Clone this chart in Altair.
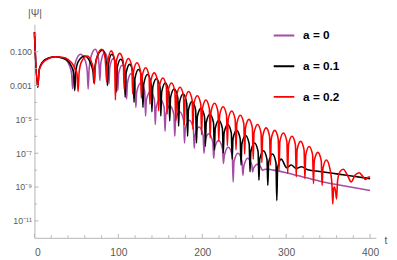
import math
import altair as alt
import pandas as pd

# ---- data (t, log10|Psi|) ----
names = ["a = 0", "a = 0.1", "a = 0.2"]
colors = ["#a64ca6", "#000000", "#ff0000"]

a0_t = [0, 3.9, 5.5, 8, 12, 18, 25, 32, 38, 42, 44.3, 45.5, 46.8, 49, 55, 61, 63, 64, 65.2, 68, 72.5,
        76, 77.1, 78, 79, 83.5, 87.8, 88.8, 89.8, 94, 98.3, 99.3, 100.3, 104.5, 108.8, 109.8, 110.8,
        115, 119.8, 120.8, 121.8, 126.6, 131.4, 132.4, 133.4, 138.2, 143, 144, 145, 149.8, 154.6,
        155.6, 156.6, 161.4, 166.2, 167.2, 168.2, 173, 177.8, 178.8, 179.8, 184.6, 189.4, 190.4,
        191.4, 196.2, 201, 202, 203, 207.8, 212.6, 213.6, 214.6, 219.4, 224.2, 225.2, 226.2, 231,
        235.8, 236.8, 237.8, 242.6, 247.4, 248.4, 249.4, 254.2, 259, 260, 261, 265.8, 270.5, 271.5,
        277, 285, 300, 320, 340, 360, 380, 400]
a0_log = [0.15, -3.1, -2.1, -1.75, -1.5, -1.35, -1.3, -1.35, -1.5, -1.85, -2.3, -3.2, -2.2, -1.6,
          -1.15, -1.6, -2.2, -3.2, -2.0, -1.2, -0.85, -1.3, -1.9, -2.7, -1.7, -1.05, -1.6, -2.9, -1.9,
          -1.4, -2.0, -3.3, -2.3, -1.8, -2.35, -3.8, -2.85, -2.3, -2.85, -4.3, -3.4, -2.85, -3.35,
          -4.8, -3.85, -3.35, -3.85, -5.3, -4.3, -3.8, -4.3, -5.7, -4.7, -4.2, -4.7, -6.0, -5.05,
          -4.55, -5.05, -6.4, -5.55, -5.05, -5.55, -6.7, -5.95, -5.45, -5.95, -7.0, -6.35, -5.85,
          -6.35, -7.3, -6.75, -6.25, -6.75, -7.6, -7.15, -6.65, -7.15, -8.7, -7.5, -7.0, -7.5, -8.3,
          -7.8, -7.3, -7.7, -8.1, -7.9, -7.65, -7.9, -8.0, -7.93, -8.0, -8.15, -8.4, -8.65, -8.85,
          -9.02, -9.2]

a1_t = [0, 3.9, 5.5, 8, 12, 18, 25, 32, 39, 44, 46.8, 48, 49.3, 52, 60, 67, 69.8, 71, 72.3, 75.5,
        81.5, 85, 86, 87, 88, 92.1, 96.4, 97.4, 98.4, 102.8, 107.1, 108.1, 109.1, 113.4, 117.7, 118.7,
        119.7, 124, 128.3, 129.3, 130.3, 134.7, 139, 140, 141, 145.3, 149.6, 150.6, 151.6, 155.9,
        160.2, 161.2, 162.2, 166.5, 170.8, 171.8, 172.8, 177.2, 181.5, 182.5, 183.5, 187.8, 192.1,
        193.1, 194.1, 198.4, 202.7, 203.7, 204.7, 209.1, 213.4, 214.4, 215.4, 219.7, 224, 225, 226,
        230.3, 234.6, 235.6, 236.6, 240.9, 245.2, 246.2, 247.2, 251.6, 255.9, 256.9, 257.9, 262.2,
        266.5, 267.5, 268.5, 272.8, 277.1, 278.1, 279.1, 283.5, 287.8, 288.8, 289.8, 294.1, 300.5,
        306, 312, 318, 326, 340, 360, 380, 400]
a1_log = [0.15, -3.1, -2.1, -1.75, -1.5, -1.35, -1.3, -1.35, -1.5, -1.85, -2.3, -3.3, -2.2, -1.6,
          -1.25, -1.7, -2.2, -2.85, -1.8, -1.2, -0.9, -1.4, -2.0, -3.0, -1.8, -1.15, -1.7, -3.4, -2.0,
          -1.45, -2.0, -3.7, -2.3, -1.75, -2.3, -4.0, -2.6, -2.05, -2.6, -4.3, -2.9, -2.35, -2.9,
          -4.55, -3.1, -2.6, -3.1, -4.8, -3.4, -2.85, -3.4, -5.1, -3.7, -3.2, -3.7, -5.4, -4.0, -3.5,
          -4.05, -6.0, -4.45, -3.95, -4.45, -6.4, -4.85, -4.35, -4.85, -6.6, -5.2, -4.7, -5.2, -6.8,
          -5.55, -5.05, -5.55, -7.0, -5.8, -5.3, -5.8, -7.35, -6.15, -5.65, -6.15, -7.7, -6.45, -5.95,
          -6.45, -8.1, -6.9, -6.4, -6.9, -8.6, -7.35, -6.85, -7.35, -8.9, -7.55, -7.05, -7.55, -9.8,
          -7.85, -7.35, -7.85, -7.7, -7.9, -7.8, -7.98, -8.08, -8.22, -8.36, -8.5]

a2_t = [0, 3.9, 5.5, 8, 12, 18, 25, 33, 40, 47, 50.7, 52, 53.3, 56, 63, 69, 70.5, 71.5, 72.5, 75, 80,
        84.1, 85, 86, 87, 91.4, 95.5, 96.5, 97.5, 101.7, 105.9, 106.9, 107.9, 112, 116.1, 117.1,
        118.1, 122.2, 126.4, 127.4, 128.4, 132.5, 136.6, 137.6, 138.6, 142.7, 146.9, 147.9, 148.9,
        153, 157.1, 158.1, 159.1, 163.3, 167.4, 168.4, 169.4, 173.5, 177.6, 178.6, 179.6, 183.8,
        187.9, 188.9, 189.9, 194, 198.2, 199.2, 200.2, 204.3, 208.4, 209.4, 210.4, 214.6, 218.7,
        219.7, 220.7, 224.8, 228.9, 229.9, 230.9, 235.1, 239.2, 240.2, 241.2, 245.3, 249.5, 250.5,
        251.5, 255.6, 259.7, 260.7, 261.7, 265.9, 270, 271, 272, 276.1, 280.2, 281.2, 282.2, 286.4,
        290.5, 291.5, 292.5, 296.6, 300.8, 301.8, 302.8, 306.9, 311, 312, 313, 317.2, 321.3, 322.3,
        323.3, 327.4, 331.5, 332.5, 333.5, 337.7, 341.8, 342.8, 343.8, 347.9, 352, 354.5, 355.5,
        356.5, 357.5, 359, 360, 361.3, 364, 368, 373, 377.5, 382, 387, 391, 394.5, 398, 400]
a2_log = [0.15, -3.1, -2.15, -1.8, -1.55, -1.38, -1.3, -1.33, -1.45, -1.85, -2.3, -3.35, -2.2, -1.6,
          -1.25, -1.75, -2.2, -2.9, -1.9, -1.25, -0.85, -1.35, -1.9, -2.75, -1.8, -0.95, -1.5, -3.85,
          -1.6, -1.1, -1.6, -3.2, -1.9, -1.4, -1.9, -3.5, -2.15, -1.65, -2.15, -3.75, -2.45, -1.95,
          -2.45, -4.1, -2.75, -2.25, -2.75, -4.5, -3.05, -2.55, -3.05, -4.7, -3.35, -2.85, -3.35,
          -5.1, -3.6, -3.1, -3.6, -5.35, -3.85, -3.35, -3.85, -5.6, -4.1, -3.6, -4.1, -5.9, -4.35,
          -3.85, -4.35, -6.1, -4.55, -4.05, -4.55, -6.3, -4.75, -4.25, -4.75, -6.55, -5.0, -4.5, -5.0,
          -6.8, -5.25, -4.75, -5.25, -7.05, -5.5, -5.0, -5.5, -7.35, -5.8, -5.3, -5.8, -7.55, -6.0,
          -5.5, -6.0, -7.7, -6.15, -5.65, -6.15, -8.0, -6.3, -5.8, -6.3, -8.2, -6.5, -6.0, -6.5, -8.4,
          -6.8, -6.3, -6.8, -8.5, -7.1, -6.6, -7.1, -8.8, -7.45, -6.95, -7.45, -8.9, -7.9, -7.4, -7.9,
          -8.8, -10.0, -9.1, -9.0, -9.3, -9.7, -8.6, -8.1, -7.95, -8.3, -8.7, -8.3, -8.15, -8.35,
          -8.55, -8.4, -8.42]

x_major = [0, 100, 200, 300, 400]
x_minor = [20, 40, 60, 80, 120, 140, 160, 180, 220, 240, 260, 280, 320, 340, 360, 380]
y_label_vals = [1e-1, 1e-3, 1e-5, 1e-7, 1e-9, 1e-11]
y_label_text = ["0.100", "0.001", "10⁻⁵", "10⁻⁷", "10⁻⁹", "10⁻¹¹"]
y_minor = [1e0, 1e-2, 1e-4, 1e-6, 1e-8, 1e-10]

# ---- build table ----
rows = []
for name, ts, ls in zip(names, [a0_t, a1_t, a2_t], [a0_log, a1_log, a2_log]):
    for t, l in zip(ts, ls):
        rows.append({"t": t, "psi": 10 ** l, "a": name})
df = pd.DataFrame(rows)

W, H = 348.7, 218
AX = "#b3b3b3"
LAB = "#5a5a5a"
FONT = "Liberation Sans"

xs = alt.Scale(domain=[0, 407], nice=False, zero=False)
ys = alt.Scale(type="log", domain=[1e-12, 4.17], nice=False)

expr = "''"
for v, txt in reversed(list(zip(y_label_vals, y_label_text))):
    e = round(math.log10(v))
    expr = f"round(log(datum.value)/LN10) == {e} ? '{txt}' : ({expr})"

lines = alt.Chart(df).mark_line(strokeWidth=1.6, interpolate="monotone").encode(
    x=alt.X("t:Q", scale=xs, axis=alt.Axis(
        values=x_major, ticks=False, grid=False, domainColor=AX, domainWidth=1,
        labelColor=LAB, labelFont=FONT, labelFontSize=10.5, labelPadding=10,
        title="t", titleX=358.3, titleY=3, titleAngle=0, titleAlign="center",
        titleBaseline="middle", titleFontWeight="normal", titleFont=FONT,
        titleFontSize=10.5, titleColor=LAB)),
    y=alt.Y("psi:Q", scale=ys, axis=alt.Axis(
        values=y_label_vals, labelExpr=expr, ticks=False, grid=False,
        domainColor=AX, domainWidth=1, labelColor=LAB, labelFont=FONT,
        labelFontSize=9, labelPadding=3,
        title="|Ψ|", titleX=0, titleY=-11, titleAngle=0, titleAlign="center",
        titleBaseline="middle", titleFontWeight="normal", titleFont=FONT,
        titleFontSize=10.5, titleColor=LAB)),
    color=alt.Color("a:N", scale=alt.Scale(domain=names, range=colors), legend=alt.Legend(
        orient="none", legendX=243.3, legendY=1, padding=0, title=None,
        symbolType="stroke", symbolSize=441, symbolStrokeWidth=2,
        labelFont=FONT, labelFontSize=12, labelFontWeight="bold", labelColor="#000000",
        labelOffset=8, clipHeight=21, rowPadding=10.3)),
)

ytm = alt.Chart(pd.DataFrame({"v": y_label_vals})).mark_rule(color=AX, strokeWidth=1).encode(
    y=alt.Y("v:Q", scale=ys), x=alt.value(0), x2=alt.value(4))
ytn = alt.Chart(pd.DataFrame({"v": y_minor})).mark_rule(color=AX, strokeWidth=1).encode(
    y=alt.Y("v:Q", scale=ys), x=alt.value(0), x2=alt.value(2.5))
xtm = alt.Chart(pd.DataFrame({"v": x_major})).mark_rule(color=AX, strokeWidth=1).encode(
    x=alt.X("v:Q", scale=xs), y=alt.value(H), y2=alt.value(H - 4))
xtn = alt.Chart(pd.DataFrame({"v": x_minor})).mark_rule(color=AX, strokeWidth=1).encode(
    x=alt.X("v:Q", scale=xs), y=alt.value(H), y2=alt.value(H - 2.5))

chart = alt.layer(lines, ytm, ytn, xtm, xtn).properties(
    width=W, height=H, autosize=alt.AutoSizeParams(type="none"),
    padding={"left": 27, "top": 14, "right": 13.3, "bottom": 20},
).configure_view(stroke=None)

chart.save("out.html", embed_options={"renderer": "svg", "actions": False})
